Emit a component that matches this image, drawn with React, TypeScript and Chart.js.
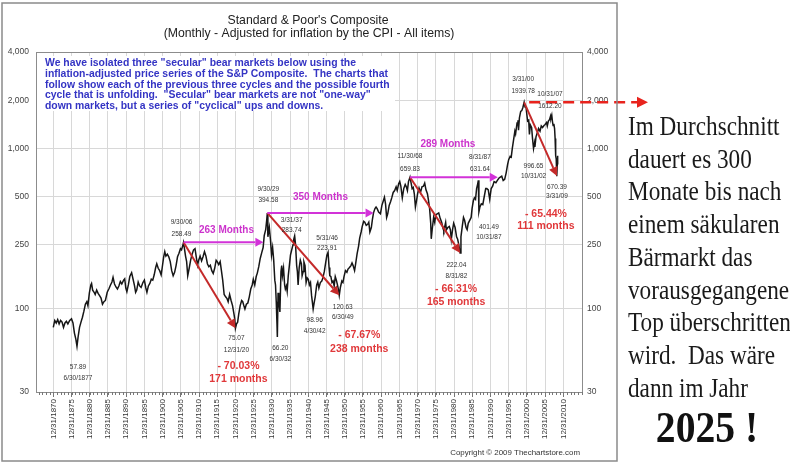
import React, { useEffect, useRef } from 'react';
import { Chart, registerables } from 'chart.js';

Chart.register(...registerables);

const SANS = '"Liberation Sans", Arial, sans-serif';
const SERIF = '"Liberation Serif", "Times New Roman", serif';

// ---------- Series: real (inflation-adjusted) S&P Composite, decimal years ----------
const priceDates = [
  1871.0, 1871.4, 1871.8, 1872.2, 1872.6, 1873.0, 1873.4, 1873.8, 1874.2, 1874.6, 1875.0, 1875.5, 1876.0, 1876.4, 1876.8, 1877.2, 1877.5, 1877.8,
  1878.2, 1878.6, 1879.0, 1879.4, 1879.8, 1880.2, 1880.5, 1880.9, 1881.3, 1881.5, 1881.8, 1882.2, 1882.5, 1882.9, 1883.3, 1883.7, 1884.1, 1884.5,
  1884.9, 1885.3, 1885.8, 1886.3, 1886.7, 1887.1, 1887.4, 1887.8, 1888.2, 1888.6, 1889.0, 1889.4, 1889.8, 1890.3, 1890.6, 1890.9, 1891.2, 1891.6,
  1892.0, 1892.5, 1892.9, 1893.3, 1893.6, 1893.9, 1894.3, 1894.7, 1895.1, 1895.6, 1896.0, 1896.4, 1896.7, 1897.1, 1897.5, 1897.9, 1898.3, 1898.7,
  1899.1, 1899.4, 1899.8, 1900.2, 1900.6, 1900.9, 1901.3, 1901.6, 1901.9, 1902.3, 1902.7, 1903.1, 1903.5, 1903.9, 1904.3, 1904.7, 1905.1, 1905.5,
  1905.9, 1906.2, 1906.5, 1906.75,
  1907.0, 1907.3, 1907.6, 1907.9, 1908.3, 1908.7, 1909.1, 1909.5, 1909.9, 1910.3, 1910.6, 1910.9, 1911.3, 1911.7, 1912.1, 1912.5, 1912.9, 1913.3,
  1913.7, 1914.1, 1914.5, 1914.9, 1915.3, 1915.7, 1916.0, 1916.4, 1916.8, 1917.1, 1917.5, 1917.9, 1918.3, 1918.7, 1919.0, 1919.4, 1919.8, 1920.2,
  1920.6, 1920.8, 1921.0, 1921.3, 1921.6, 1921.9, 1922.3, 1922.7, 1923.0, 1923.3, 1923.6, 1924.0, 1924.4, 1924.8, 1925.2, 1925.6, 1925.9, 1926.3,
  1926.7, 1927.0, 1927.4, 1927.8, 1928.2, 1928.6, 1928.9, 1929.3, 1929.6, 1929.75,
  1929.9, 1930.1, 1930.3, 1930.6, 1930.9, 1931.2, 1931.5, 1931.8, 1932.0, 1932.2, 1932.4, 1932.5, 1932.7, 1932.9, 1933.2, 1933.5, 1933.7, 1933.9,
  1934.2, 1934.5, 1934.7, 1935.0, 1935.2, 1935.5, 1935.8, 1936.1, 1936.4, 1936.8, 1937.0, 1937.25, 1937.5, 1937.8, 1938.0, 1938.2, 1938.5, 1938.8,
  1939.1, 1939.3, 1939.6, 1939.8, 1940.1, 1940.4, 1940.7, 1941.0, 1941.3, 1941.6, 1941.9, 1942.1, 1942.33, 1942.6, 1942.9, 1943.3, 1943.6, 1943.9,
  1944.3, 1944.7, 1945.0, 1945.4, 1945.8, 1946.1, 1946.42, 1946.7, 1946.9, 1947.2, 1947.5, 1947.8, 1948.1, 1948.4, 1948.7, 1949.0, 1949.3, 1949.5,
  1949.8, 1950.2, 1950.5, 1950.8, 1951.2, 1951.6, 1951.9, 1952.3, 1952.7, 1953.0, 1953.3, 1953.7, 1954.0, 1954.4, 1954.8, 1955.1, 1955.5, 1955.8,
  1956.2, 1956.5, 1956.9, 1957.3, 1957.6, 1957.9, 1958.3, 1958.6, 1958.9, 1959.3, 1959.6, 1959.9, 1960.3, 1960.8, 1961.2, 1961.6, 1961.9, 1962.2,
  1962.5, 1962.8, 1963.2, 1963.6, 1963.9, 1964.3, 1964.7, 1965.1, 1965.4, 1965.8, 1966.1, 1966.4, 1966.8, 1967.2, 1967.6, 1967.9, 1968.2, 1968.5,
  1968.92,
  1969.2, 1969.5, 1969.8, 1970.1, 1970.4, 1970.7, 1971.0, 1971.4, 1971.8, 1972.2, 1972.6, 1972.95, 1973.3, 1973.7, 1973.95, 1974.3, 1974.6, 1974.75,
  1975.0, 1975.4, 1975.7, 1976.0, 1976.4, 1976.8, 1977.2, 1977.6, 1978.0, 1978.2, 1978.7, 1978.9, 1979.3, 1979.7, 1980.0, 1980.25, 1980.6, 1980.9,
  1981.3, 1981.7, 1982.0, 1982.3, 1982.67, 1982.9, 1983.3, 1983.6, 1983.9, 1984.3, 1984.6, 1984.9, 1985.3, 1985.7, 1985.95, 1986.3, 1986.6, 1986.9,
  1987.2, 1987.5, 1987.67, 1987.83,
  1988.1, 1988.5, 1988.9, 1989.3, 1989.7, 1990.0, 1990.4, 1990.8, 1991.2, 1991.6, 1992.0, 1992.5, 1992.9, 1993.3, 1993.7, 1994.1, 1994.5, 1994.9,
  1995.3, 1995.7, 1996.0, 1996.4, 1996.7, 1997.0, 1997.4, 1997.7, 1997.9, 1998.3, 1998.55, 1998.7, 1998.95, 1999.3, 1999.6, 1999.9, 2000.25, 2000.5,
  2000.75, 2001.0, 2001.2, 2001.5, 2001.7, 2001.95, 2002.3, 2002.55, 2002.83, 2003.1, 2003.2, 2003.5, 2003.9, 2004.2, 2004.6, 2004.95, 2005.3, 2005.7,
  2006.0, 2006.4, 2006.6, 2006.9, 2007.2, 2007.5, 2007.6, 2007.83, 2008.0, 2008.2, 2008.4, 2008.6, 2008.75, 2008.85, 2008.95, 2009.05, 2009.15, 2009.25,
  2009.35, 2009.45,
];

const priceValues = [
  76, 84, 81, 85, 80, 84, 82, 76, 81, 83, 80, 84, 86, 81, 70, 64, 57.89, 66,
  76, 82, 88, 96, 106, 110, 104, 125, 140, 143, 130, 126, 122, 130, 124, 120, 116, 106,
  110, 112, 126, 133, 140, 146, 156, 142, 136, 132, 138, 147, 142, 150, 153, 134, 127, 140,
  158, 167, 152, 138, 126, 130, 146, 138, 135, 145, 150, 134, 126, 138, 143, 152, 150, 162,
  180, 190, 178, 172, 162, 180, 210, 226, 212, 218, 210, 196, 172, 160, 168, 185, 210, 221,
  236, 232, 245, 258.49,
  236, 212, 196, 160, 178, 200, 218, 232, 236, 205, 186, 200, 212, 198, 210, 226, 212, 190,
  182, 186, 172, 165, 178, 200, 196, 188, 196, 175, 150, 122, 118, 115, 110, 122, 112, 104,
  92, 86, 75.07, 80, 82, 92, 104, 112, 110, 104, 99, 106, 108, 118, 132, 140, 152, 140,
  158, 166, 182, 205, 222, 240, 285, 310, 360, 394.58,
  280, 300, 320, 270, 215, 240, 200, 150, 140, 110, 80, 66.2, 125, 110, 95, 170, 185, 160,
  178, 140, 132, 138, 128, 160, 185, 215, 230, 250, 270, 283.74, 250, 185, 170, 140, 180, 200,
  190, 160, 170, 195, 185, 145, 155, 152, 140, 145, 120, 110, 98.96, 108, 118, 140, 146, 134,
  145, 148, 155, 170, 195, 215, 223.91, 180, 160, 158, 145, 148, 138, 158, 150, 140, 130, 120.63,
  135, 148, 145, 158, 172, 168, 176, 180, 185, 192, 185, 172, 190, 220, 245, 275, 300, 325,
  350, 345, 330, 335, 345, 300, 320, 360, 395, 420, 430, 420, 400, 390, 440, 470, 495, 450,
  370, 390, 440, 465, 490, 530, 545, 575, 545, 600, 620, 580, 490, 560, 595, 575, 545, 620,
  659.83,
  610, 560, 570, 520, 430, 470, 520, 565, 530, 575, 580, 606, 550, 520, 480, 420, 340, 272,
  310, 370, 345, 385, 390, 395, 365, 345, 315, 305, 345, 310, 320, 325, 310, 270, 310, 340,
  320, 280, 270, 250, 222.04, 280, 330, 370, 355, 320, 310, 340, 355, 370, 420, 470, 490, 480,
  560, 600, 631.64, 401.49,
  430, 450, 445, 500, 560, 560, 550, 480, 560, 580, 620, 610, 630, 650, 660, 670, 630, 640,
  700, 790, 850, 890, 880, 1000, 1150, 1280, 1230, 1440, 1500, 1300, 1550, 1700, 1720, 1800, 1939.78, 1810,
  1820, 1620, 1480, 1500, 1220, 1400, 1350, 1150, 996.65, 1080, 1020, 1180, 1260, 1330, 1280, 1380, 1350, 1390,
  1410, 1450, 1380, 1480, 1510, 1590, 1540, 1612.2, 1480, 1390, 1420, 1330, 1150, 960, 900, 860, 770, 670.39,
  800, 900,
];

// ---------- Axes ----------
const xTickLabels = [
  '12/31/1870', '12/31/1875', '12/31/1880', '12/31/1885', '12/31/1890', '12/31/1895', '12/31/1900', '12/31/1905',
  '12/31/1910', '12/31/1915', '12/31/1920', '12/31/1925', '12/31/1930', '12/31/1935', '12/31/1940', '12/31/1945',
  '12/31/1950', '12/31/1955', '12/31/1960', '12/31/1965', '12/31/1970', '12/31/1975', '12/31/1980', '12/31/1985',
  '12/31/1990', '12/31/1995', '12/31/2000', '12/31/2005', '12/31/2010',
];
const yTickValues = [30, 100, 250, 500, 1000, 2000, 4000];
const xRange = [1866.25, 2016.13];

// ---------- Labelled extremes ----------
const extremeDates = ['6/30/1877', '9/30/06', '12/31/20', '9/30/29', '6/30/32', '3/31/37', '4/30/42', '5/31/46', '6/30/49',
  '11/30/68', '8/31/82', '8/31/87', '10/31/87', '3/31/00', '10/31/02', '10/31/07', '3/31/09'];
const extremeYears = [1877.5, 1906.75, 1921.0, 1929.75, 1932.5, 1937.25, 1942.33, 1946.42, 1949.5,
  1968.92, 1982.67, 1987.67, 1987.83, 2000.25, 2002.83, 2007.83, 2009.25];
const extremeValues = ['57.89', '258.49', '75.07', '394.58', '66.20', '283.74', '98.96', '223.91', '120.63',
  '659.83', '222.04', '631.64', '401.49', '1939.78', '996.65', '1612.20', '670.39'];

// label layout (pixel offsets from the point): [dx, dateDy, valueDy]
const extremeLabelOffsets = [
  [1, 31.5, 20.5], [-2, -20, -8.5], [1, 22, 10], [1, -24, -12.5], [3, 22.5, 11.5], [-3, -15.5, -6],
  [1.5, 22, 11], [-1, -14, -4.5], [3.5, 21.5, 12], [0, -20.7, -8], [-3.7, 23, 12], [1.6, -23, -11],
  [10, 25, 15], [-1, -22.6, -11], [0, 28, 17.3], [-1.8, -21, -8.7], [0, 20, 11],
];

// ---------- Secular bear market cycles ----------
const cyclePeakYears = [1906.75, 1929.75, 1968.92, 2000.25];
const cyclePeakValues = [258.49, 394.58, 659.83, 1939.78];
const cycleTroughYears = [1921.0, 1949.5, 1982.67, 2009.25];
const cycleTroughValues = [75.07, 120.63, 222.04, 670.39];
const cycleDeclines = ['- 70.03%', '- 67.67%', '- 66.31%', '- 65.44%'];
const cycleDurations = ['171 months', '238 months', '165 months', '111 months'];
const recoveryMonths = [263, 350, 289];

const declineLabelOffsets = [[3, 37.5, 51], [20, 40, 54], [-4, 36, 49.5], [-11, 37.7, 50.4]];
const recoveryLabelOffsets = [[3, -11.7], [0, -15.7], [-6, -33]];

const introLines = [
  'We have isolated three "secular" bear markets below using the',
  'inflation-adjusted price series of the S&P Composite.  The charts that',
  'follow show each of the previous three cycles and the possible fourth',
  'cycle that is unfolding.  "Secular" bear markets are not "one-way"',
  'down markets, but a series of "cyclical" ups and downs.',
];
const titleText = "Standard & Poor's Composite";
const subtitleText = '(Monthly - Adjusted for inflation by the CPI - All items)';
const copyrightText = 'Copyright \u00A9 2009 Thechartstore.com';
const germanLines = [
  'Im Durchschnitt', 'dauert es 300', 'Monate bis nach', 'einem s\u00E4kularen', 'B\u00E4rmarkt das',
  'vorausgegangene', 'Top \u00FCberschritten', 'wird.  Das w\u00E4re', 'dann im Jahr',
];
const germanYear = '2025 !';

const tickYear = (label: string) => parseInt(label.split('/')[2], 10) + 1;

function fitFont(ctx: CanvasRenderingContext2D, text: string, width: number, weight: string, family: string) {
  ctx.font = `${weight} 10px ${family}`;
  const w = ctx.measureText(text).width;
  return (10 * width) / w;
}

function arrow(ctx: CanvasRenderingContext2D, x1: number, y1: number, x2: number, y2: number,
  color: string, width: number, headLen: number, headHalf: number, dash?: number[]) {
  const ang = Math.atan2(y2 - y1, x2 - x1);
  const bx = x2 - headLen * Math.cos(ang);
  const by = y2 - headLen * Math.sin(ang);
  ctx.save();
  ctx.strokeStyle = color;
  ctx.lineWidth = width;
  if (dash) ctx.setLineDash(dash);
  ctx.beginPath();
  ctx.moveTo(x1, y1);
  ctx.lineTo(bx, by);
  ctx.stroke();
  ctx.setLineDash([]);
  ctx.fillStyle = color;
  ctx.beginPath();
  ctx.moveTo(x2, y2);
  ctx.lineTo(bx + headHalf * Math.sin(ang), by - headHalf * Math.cos(ang));
  ctx.lineTo(bx - headHalf * Math.sin(ang), by + headHalf * Math.cos(ang));
  ctx.closePath();
  ctx.fill();
  ctx.restore();
}

function text(ctx: CanvasRenderingContext2D, s: string, x: number, y: number, font: string, color: string, align: CanvasTextAlign = 'center') {
  ctx.font = font;
  ctx.fillStyle = color;
  ctx.textAlign = align;
  ctx.textBaseline = 'middle';
  ctx.fillText(s, x, y);
}

function scaledText(ctx: CanvasRenderingContext2D, s: string, x: number, y: number, font: string, sx: number, align: CanvasTextAlign, color: string) {
  ctx.save();
  ctx.translate(x, y);
  ctx.scale(sx, 1);
  ctx.font = font;
  ctx.fillStyle = color;
  ctx.textAlign = align;
  ctx.textBaseline = 'alphabetic';
  ctx.fillText(s, 0, 0);
  ctx.restore();
}

const overlayPlugin = {
  id: 'overlay',
  afterDraw(chart: any) {
    const ctx: CanvasRenderingContext2D = chart.ctx;
    const xs = chart.scales.x;
    const ys = chart.scales.y;
    const area = chart.chartArea;
    const px = (v: number) => xs.getPixelForValue(v);
    const py = (v: number) => ys.getPixelForValue(v);
    ctx.save();

    // top border of plot
    ctx.strokeStyle = '#8c8c8c';
    ctx.lineWidth = 1;
    ctx.beginPath();
    ctx.moveTo(area.left, area.top + 0.5);
    ctx.lineTo(area.right, area.top + 0.5);
    ctx.stroke();

    // yearly minor ticks under the axis
    ctx.strokeStyle = '#777';
    ctx.beginPath();
    for (let yr = Math.ceil(xRange[0]); yr <= xRange[1]; yr++) {
      const x = Math.round(px(yr)) + 0.5;
      ctx.moveTo(x, area.bottom);
      ctx.lineTo(x, area.bottom + 3);
    }
    ctx.stroke();

    // intro text box
    ctx.fillStyle = '#ffffff';
    ctx.fillRect(area.left + 1, area.top + 4, 358, 55);
    const introSize = fitFont(ctx, introLines[2], 345, 'bold', SANS);
    introLines.forEach((l, i) => {
      text(ctx, l, 45, 63 + i * 10.85, `bold ${introSize}px ${SANS}`, '#3434c4', 'left');
    });

    // title
    const tSize = fitFont(ctx, titleText, 161, 'normal', SANS);
    text(ctx, titleText, 308, 20.5, `${tSize}px ${SANS}`, '#222');
    const sSize = fitFont(ctx, subtitleText, 291, 'normal', SANS);
    text(ctx, subtitleText, 309, 33.5, `${sSize}px ${SANS}`, '#222');

    // red decline arrows and magenta recovery arrows
    cyclePeakYears.forEach((py0, i) => {
      const x1 = px(py0), y1 = py(cyclePeakValues[i]);
      const x2 = px(cycleTroughYears[i]), y2 = py(cycleTroughValues[i]);
      arrow(ctx, x1, y1, x2, y2, '#c42a2a', 2, 9, 4.5);
      const [ddx, d1, d2] = declineLabelOffsets[i];
      text(ctx, cycleDeclines[i], x2 + ddx, y2 + d1, `bold 10.5px ${SANS}`, '#e0383a');
      text(ctx, cycleDurations[i], x2 + ddx, y2 + d2, `bold 10.5px ${SANS}`, '#e0383a');
      if (i < recoveryMonths.length) {
        const xe = px(py0 + recoveryMonths[i] / 12);
        arrow(ctx, x1, y1, xe, y1, '#d232d8', 2, 8, 4.5);
        const [rdx, rdy] = recoveryLabelOffsets[i];
        text(ctx, `${recoveryMonths[i]} Months`, (x1 + xe) / 2 + rdx, y1 + rdy, `bold 10px ${SANS}`, '#cc33cc');
      }
    });

    // dashed red projection of the 2000 top
    {
      const x0 = px(cyclePeakYears[3]) + 5;
      const y0 = py(cyclePeakValues[3]);
      arrow(ctx, x0, y0, 648, y0, '#e8231d', 2.5, 11, 5.5, [11, 6]);
    }

    // extreme labels
    extremeYears.forEach((yr, i) => {
      const x = px(yr);
      const y = py(parseFloat(extremeValues[i]));
      const [dx, dDate, dVal] = extremeLabelOffsets[i];
      text(ctx, extremeDates[i], x + dx, y + dDate, `6.5px ${SANS}`, '#333');
      text(ctx, extremeValues[i], x + dx, y + dVal, `6.5px ${SANS}`, '#333');
    });

    // copyright
    const cSize = fitFont(ctx, copyrightText, 130, 'normal', SANS);
    text(ctx, copyrightText, 580, 453, `${cSize}px ${SANS}`, '#333', 'right');

    // outer frame
    ctx.strokeStyle = '#8a8a8a';
    ctx.lineWidth = 1.5;
    ctx.strokeRect(2, 3, 615, 458);

    // German commentary
    germanLines.forEach((l, i) => {
      scaledText(ctx, l, 628, 135 + i * 32.7, `27px ${SERIF}`, 0.86, 'left', '#1a1a1a');
    });
    scaledText(ctx, germanYear, 707, 442, `bold 44px ${SERIF}`, 0.9, 'center', '#111');

    ctx.restore();
  },
};

export default function App() {
  const ref = useRef<HTMLCanvasElement | null>(null);

  useEffect(() => {
    const canvas = ref.current;
    if (!canvas) return;
    const data = priceDates.map((d, i) => ({ x: d, y: priceValues[i] }));
    const yFmt = (v: any) => Number(v).toLocaleString('en-US');
    const chart = new Chart(canvas, {
      type: 'line',
      data: {
        datasets: [{
          data,
          borderColor: '#161616',
          borderWidth: 1.5,
          pointRadius: 0,
          tension: 0,
          fill: false,
          yAxisID: 'y',
        }],
      },
      options: {
        responsive: false,
        animation: false,
        devicePixelRatio: 1,
        layout: { padding: { left: 0, top: 52, right: 170, bottom: 0 } },
        plugins: { legend: { display: false }, tooltip: { enabled: false }, title: { display: false } },
        scales: {
          x: {
            type: 'linear',
            bounds: 'data',
            min: xRange[0],
            max: xRange[1],
            afterBuildTicks: (s: any) => { s.ticks = xTickLabels.map((l) => ({ value: tickYear(l) })); },
            afterFit: (s: any) => { s.height = 72; },
            ticks: {
              autoSkip: false,
              minRotation: 90,
              maxRotation: 90,
              padding: 2,
              color: '#333',
              font: { family: SANS, size: 8 },
              callback: (_v: any, i: number) => xTickLabels[i],
            },
            grid: { color: '#d8d8d8', lineWidth: 1, drawTicks: true, tickLength: 5, tickColor: '#777' },
            border: { display: true, color: '#8c8c8c', width: 1 },
          },
          y: {
            type: 'logarithmic',
            position: 'left',
            min: 30,
            max: 4000,
            afterBuildTicks: (s: any) => { s.ticks = yTickValues.map((v) => ({ value: v })); },
            afterFit: (s: any) => { s.width = 36; },
            ticks: { padding: 7, color: '#444', font: { family: SANS, size: 8.5 }, callback: yFmt },
            grid: { color: '#d8d8d8', lineWidth: 1, drawTicks: false },
            border: { display: true, color: '#8c8c8c', width: 1 },
          },
          y2: {
            type: 'logarithmic',
            position: 'right',
            min: 30,
            max: 4000,
            afterBuildTicks: (s: any) => { s.ticks = yTickValues.map((v) => ({ value: v })); },
            afterFit: (s: any) => { s.width = 38; },
            ticks: { padding: 5, color: '#444', font: { family: SANS, size: 8.5 }, callback: yFmt },
            grid: { drawOnChartArea: false, drawTicks: false },
            border: { display: true, color: '#8c8c8c', width: 1 },
          },
        },
      } as any,
      plugins: [overlayPlugin],
    });
    return () => chart.destroy();
  }, []);

  return (
    <div style={{ position: 'fixed', left: 0, top: 0, width: 790, height: 464, background: '#fff' }}>
      <canvas ref={ref} width={790} height={464} style={{ display: 'block', width: 790, height: 464 }} />
    </div>
  );
}
